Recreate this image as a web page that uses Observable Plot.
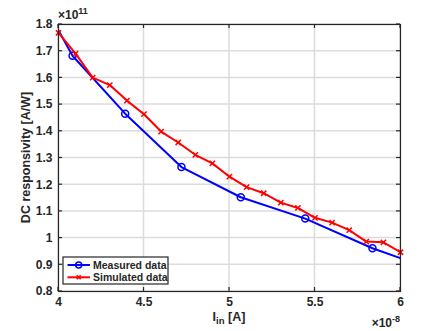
<!DOCTYPE html>
<html><head><meta charset="utf-8">
<script src="https://cdn.jsdelivr.net/npm/d3@7"></script>
<script src="https://cdn.jsdelivr.net/npm/@observablehq/plot@0.6"></script>
<style>
html,body{margin:0;padding:0;background:#fff;}
svg{font-family:"Liberation Sans",Arial,sans-serif;}
</style>
</head><body>
<div id="chart"></div>
<script>
// Values in units of 1e-8 A (x) and 1e11 A/W (y)
const measuredX = [4.0, 4.082, 4.39, 4.719, 5.066, 5.443, 5.836, 6.0];
const measuredY = [1.778, 1.683, 1.466, 1.266, 1.153, 1.073, 0.962, 0.925];
const measuredMarkerIdx = [1, 2, 3, 4, 5, 6];
const simulatedX = [4.0, 4.1, 4.2, 4.3, 4.4, 4.5, 4.6, 4.7, 4.8, 4.9, 5.0, 5.1, 5.2, 5.3, 5.4, 5.5, 5.6, 5.7, 5.8, 5.9, 6.0];
const simulatedY = [1.769, 1.691, 1.601, 1.573, 1.515, 1.464, 1.399, 1.358, 1.312, 1.280, 1.230, 1.191, 1.168, 1.133, 1.113, 1.076, 1.058, 1.030, 0.987, 0.984, 0.947];
const xTicks = [4, 4.5, 5, 5.5, 6];
const yTicks = [0.8, 0.9, 1.0, 1.1, 1.2, 1.3, 1.4, 1.5, 1.6, 1.7, 1.8];
const seriesNames = ["Measured data", "Simulated data"];
const seriesColors = ["#0000ff", "#ff0000"];

const measured = measuredX.map((x, i) => ({x, y: measuredY[i]}));
const measuredMarkers = measuredMarkerIdx.map(i => measured[i]);
const simulated = simulatedX.map((x, i) => ({x, y: simulatedY[i]}));
const fmt = d3.format("~g");

const W = 441, H = 331;
const mL = 58, mR = 41, mT = 24, mB = 40;

const plot = Plot.plot({
  width: W, height: H,
  marginLeft: mL, marginRight: mR, marginTop: mT, marginBottom: mB,
  style: {fontFamily: "Liberation Sans, Arial, sans-serif", fontSize: "12px", fontWeight: "bold", color: "#262626", background: "#fff"},
  x: {domain: [4, 6], ticks: xTicks, label: null},
  y: {domain: [0.8, 1.8], ticks: yTicks, label: null},
  marks: [
    Plot.axisX(xTicks, {anchor: "bottom", tickSize: 0, tickPadding: 6, tickFormat: fmt, fill: "#262626", label: null}),
    Plot.axisY(yTicks, {anchor: "left", tickSize: 0, tickPadding: 6, tickFormat: fmt, fill: "#262626", label: null}),
    Plot.line(measured, {x: "x", y: "y", stroke: seriesColors[0], strokeWidth: 2, clip: true}),
    Plot.dot(measuredMarkers, {x: "x", y: "y", r: 3.5, stroke: seriesColors[0], strokeWidth: 1.5, fill: "none"}),
    Plot.line(simulated, {x: "x", y: "y", stroke: seriesColors[1], strokeWidth: 2, clip: true}),
    Plot.dot(simulated, {x: "x", y: "y", symbol: "times", r: 2.5, stroke: seriesColors[1], strokeWidth: 1.5}),
    Plot.frame({stroke: "#262626", strokeWidth: 1.2})
  ]
});
document.getElementById("chart").appendChild(plot);

const svg = d3.select(plot);
const tcol = "#262626";
const sx = plot.scale("x"), sy = plot.scale("y");
const x0 = sx.apply(4), x1 = sx.apply(6), y0 = sy.apply(0.8), y1 = sy.apply(1.8);
// grid (behind the data marks) and inward ticks
const grid = svg.insert("g", "g").attr("stroke", "#dcdcdc").attr("stroke-width", 1.5);
xTicks.forEach(t => grid.append("line").attr("x1", sx.apply(t)).attr("x2", sx.apply(t)).attr("y1", y0).attr("y2", y1));
yTicks.forEach(t => grid.append("line").attr("y1", sy.apply(t)).attr("y2", sy.apply(t)).attr("x1", x0).attr("x2", x1));
const tk = svg.append("g").attr("stroke", tcol).attr("stroke-width", 1.2);
xTicks.forEach(t => {
  const px = sx.apply(t);
  tk.append("line").attr("x1", px).attr("x2", px).attr("y1", y0).attr("y2", y0 - 4);
  tk.append("line").attr("x1", px).attr("x2", px).attr("y1", y1).attr("y2", y1 + 4);
});
yTicks.forEach(t => {
  const py = sy.apply(t);
  tk.append("line").attr("y1", py).attr("y2", py).attr("x1", x0).attr("x2", x0 + 4);
  tk.append("line").attr("y1", py).attr("y2", py).attr("x1", x1).attr("x2", x1 - 4);
});
// exponent labels
const e1 = svg.append("text").attr("x", mL).attr("y", mT - 5).attr("fill", tcol)
  .attr("font-size", 12).attr("font-weight", "bold").attr("text-anchor", "start");
e1.append("tspan").text("×10");
e1.append("tspan").attr("dy", -5).attr("font-size", 9).text("11");
const e2 = svg.append("text").attr("x", W - mR).attr("y", 327).attr("fill", tcol)
  .attr("font-size", 12).attr("font-weight", "bold").attr("text-anchor", "end");
e2.append("tspan").text("×10");
e2.append("tspan").attr("dy", -5).attr("font-size", 9).text("-8");
// x label
const xl = svg.append("text").attr("x", (mL + W - mR) / 2).attr("y", 321).attr("fill", tcol)
  .attr("font-size", 12.5).attr("font-weight", "bold").attr("text-anchor", "middle");
xl.append("tspan").text("I");
xl.append("tspan").attr("dy", 3).attr("font-size", 9.5).text("in");
xl.append("tspan").attr("dy", -3).text(" [A]");
// y label
svg.append("text").attr("transform", `translate(30,${(mT + H - mB) / 2}) rotate(-90)`)
  .attr("fill", tcol).attr("font-size", 12.5).attr("font-weight", "bold").attr("text-anchor", "middle")
  .text("DC responsivity [A/W]");
// legend
const lg = svg.append("g").attr("transform", "translate(63,257)");
lg.append("rect").attr("width", 105).attr("height", 27).attr("fill", "#fff").attr("stroke", tcol).attr("stroke-width", 1.2);
seriesNames.forEach((name, i) => {
  const yy = 8 + i * 12.3;
  lg.append("line").attr("x1", 4.5).attr("x2", 27).attr("y1", yy).attr("y2", yy)
    .attr("stroke", seriesColors[i]).attr("stroke-width", 2);
  if (i === 0) {
    lg.append("circle").attr("cx", 15.7).attr("cy", yy).attr("r", 3).attr("fill", "none")
      .attr("stroke", seriesColors[i]).attr("stroke-width", 1.5);
  } else {
    lg.append("path").attr("d", `M${15.7-2},${yy-2}L${15.7+2},${yy+2}M${15.7-2},${yy+2}L${15.7+2},${yy-2}`)
      .attr("stroke", seriesColors[i]).attr("stroke-width", 1.5);
  }
  lg.append("text").attr("x", 30).attr("y", yy).attr("dy", "0.35em").attr("fill", tcol)
    .attr("text-anchor", "start").attr("font-size", 10.5).attr("font-weight", "bold").text(name);
});
</script>
</body></html>
